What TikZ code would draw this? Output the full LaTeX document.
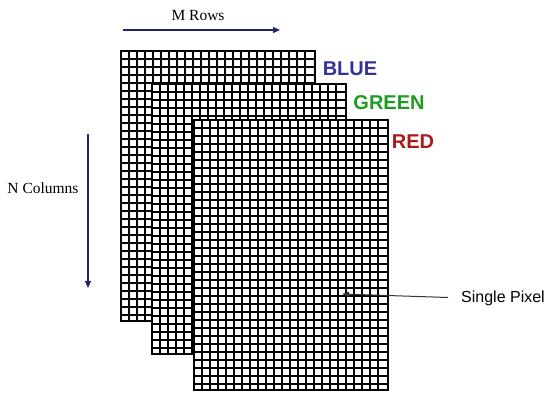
\documentclass[tikz,border=0pt]{standalone}
\usepackage{fontspec}
\setmainfont{Liberation Serif}
\newfontfamily\arialfont{Liberation Sans}
\usetikzlibrary{arrows.meta}
\definecolor{navy}{HTML}{23236E}
\definecolor{bluetxt}{HTML}{333399}
\definecolor{greentxt}{HTML}{1F9A22}
\definecolor{redtxt}{HTML}{AA1A1A}
\tikzset{
  layer/.style={fill=white, minimum width=194pt, minimum height=270pt, inner sep=0pt, outer sep=0pt},
  gridline/.style={black, line width=1.7pt},
  border/.style={black, line width=2.4pt},
  dimarrow/.style={navy, line width=1.3pt, -{Triangle[length=7pt,width=6pt]}},
  ptrarrow/.style={black!80, line width=1pt, -{Triangle[length=7pt,width=5pt]}},
  axislabel/.style={font=\fontsize{15.5}{18}\selectfont, inner sep=0pt},
  chanlabel/.style={font=\arialfont\bfseries\fontsize{20}{24}\selectfont, inner sep=0pt},
}
\newcommand\pixlayer[3]{%
  \node[layer] (#1) at (#2+97,#3+135) {};
  \begin{scope}
    \clip (#2,#3) rectangle ++(194,270);
    \foreach \i in {1,...,23} \draw[gridline] ({#2+\i*8},#3) -- ++(0,270);
    \foreach \j in {1,...,33} \draw[gridline] (#2,{#3+\j*8}) -- ++(194,0);
  \end{scope}
  \draw[border] (#1.north west) rectangle (#1.south east);
}
\begin{document}
\begin{tikzpicture}[x=1pt,y=-1pt]
  \useasboundingbox (0,0) rectangle (558,419);
  \pixlayer{blue}{121}{51}
  \pixlayer{green}{152}{84}
  \pixlayer{red}{194}{120}

  \node[chanlabel, text=bluetxt] (bluelbl) at (350,69) {BLUE};
  \node[chanlabel, text=greentxt] (greenlbl) at (389,103) {GREEN};
  \node[chanlabel, text=redtxt] (redlbl) at (413,142) {RED};

  \node[axislabel] (mrows) at (198,15.5) {M Rows};
  \coordinate (mstart) at (123,30);
  \coordinate (mend) at (280,30);
  \draw[dimarrow] (mstart) -- (mend);

  \node[axislabel] (ncols) at (43,188) {N Columns};
  \coordinate (nstart) at (88,134);
  \coordinate (nend) at (88,288);
  \draw[dimarrow] (nstart) -- (nend);

  \node[font=\arialfont\fontsize{16}{19}\selectfont, inner sep=0pt] (single) at (503,298.5) {Single Pixel};
  \coordinate (pixel) at (342,294);
  \coordinate (pstart) at (448,297.5);
  \draw[ptrarrow] (pstart) -- (pixel);
\end{tikzpicture}
\end{document}
